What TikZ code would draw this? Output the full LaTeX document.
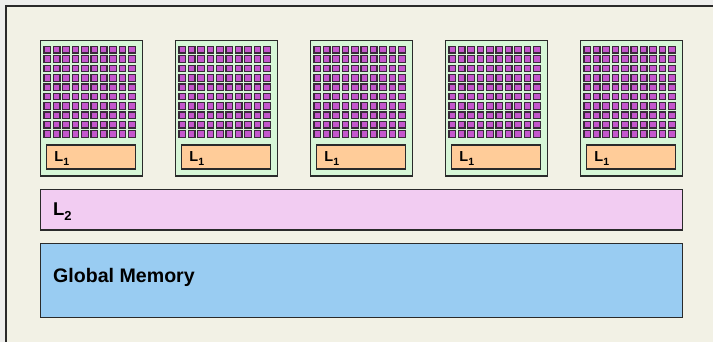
\documentclass[tikz,border=0pt]{standalone}
\usepackage{fontspec}
\setmainfont{Liberation Sans}
\definecolor{outerbg}{HTML}{EEEEEC}
\definecolor{beige}{HTML}{F2F1E5}
\definecolor{smgreen}{HTML}{D7F6D7}
\definecolor{core}{HTML}{C457CC}
\definecolor{coreedge}{HTML}{3A2A3A}
\definecolor{lonefill}{HTML}{FFCC99}
\definecolor{ltwofill}{HTML}{F2CCF2}
\definecolor{gmfill}{HTML}{99CCF2}
\definecolor{edge}{HTML}{2A2A2A}
\newcommand{\lbl}[3]{\bfseries\fontsize{#1}{#1}\selectfont L\raisebox{-0.22em}{\fontsize{#2}{#2}\selectfont #3}}
\begin{document}
\begin{tikzpicture}[x=1pt,y=-1pt,
  box/.style={draw=edge,line width=1.3pt,inner sep=0,anchor=north west},
  lab/.style={anchor=base west,inner sep=0,text=black}]
\useasboundingbox (0,0) rectangle (713,342);
\fill[outerbg] (0,0) rectangle (713,342);
\fill[beige] (6,6) rectangle (713,342);
\draw[edge,line width=1.2pt] (6,342) -- (6,6) -- (713,6);
\foreach \i in {0,...,4}{
  \pgfmathsetmacro{\ox}{40+135*\i}
  \node[box,fill=smgreen,minimum width=101.5pt,minimum height=135.5pt] (sm\i) at (\ox,40) {};
  \foreach \c in {0,...,9}{
    \foreach \r in {0,...,9}{
      \pgfmathsetmacro{\sx}{\ox+4+9.4*\c}
      \pgfmathsetmacro{\sy}{46.5+9.35*\r}
      \filldraw[fill=core,draw=coreedge,line width=1.25pt] (\sx,\sy) rectangle ++(6.6,6.6);
    }
  }
  \node[box,fill=lonefill,minimum width=89pt,minimum height=24pt] (lone\i) at (\ox+6,144.3) {};
  \node[lab] (lonetext\i) at (\ox+14.2,162) {\lbl{14.5}{10.5}{1}};
}
\node[box,fill=ltwofill,minimum width=642pt,minimum height=40.5pt] (ltwo) at (40,189) {};
\node[lab] (ltwotext) at (52.8,216) {\lbl{18.5}{13}{2}};
\node[box,fill=gmfill,minimum width=642pt,minimum height=74pt] (gm) at (40,243) {};
\node[lab] (gmtext) at (53,282.3) {\bfseries\fontsize{19.6}{20}\selectfont Global Memory};
\end{tikzpicture}
\end{document}
